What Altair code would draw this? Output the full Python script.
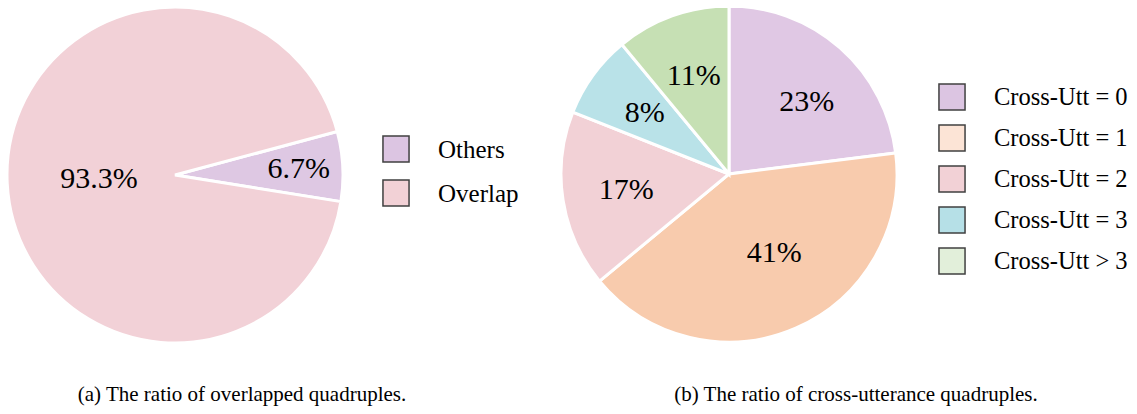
import math
import altair as alt
import pandas as pd

# ---------------- data ----------------
a_cats = ["Others", "Overlap"]
a_vals = [6.7, 93.3]
a_labels = ["6.7%", "93.3%"]
a_pie_colors = ["#DEC8E3", "#F2D1D7"]
a_legend_colors = ["#DCC5E2", "#F2D1D6"]

b_cats = ["Cross-Utt = 0", "Cross-Utt = 1", "Cross-Utt = 2", "Cross-Utt = 3", "Cross-Utt > 3"]
b_vals = [23, 41, 17, 8, 11]
b_labels = ["23%", "41%", "17%", "8%", "11%"]
b_pie_colors = ["#E0C8E4", "#F8CBAD", "#F2D1D6", "#B9E2E8", "#C6E0B4"]
b_legend_colors = ["#DCC5E2", "#FCE4D6", "#F2D1D6", "#B6E0E7", "#E2EFDA"]

captions = ["(a) The ratio of overlapped quadruples.", "(b) The ratio of cross-utterance quadruples."]

FONT = "'Liberation Serif', 'Times New Roman', Times, serif"

df_a = pd.DataFrame({"cat": a_cats, "value": a_vals, "label": a_labels, "idx": list(range(len(a_cats)))})
df_b = pd.DataFrame({"cat": b_cats, "value": b_vals, "label": b_labels, "idx": list(range(len(b_cats)))})


def theta_enc(start_deg):
    s = math.radians(start_deg)
    return alt.Theta("value:Q", stack=True, scale=alt.Scale(range=[s, s + 2 * math.pi]))


def arcs(df, cx, cy, r, start_deg, cats, colors):
    return alt.Chart(df).mark_arc(outerRadius=r, stroke="white", strokeWidth=3).encode(
        theta=theta_enc(start_deg),
        color=alt.Color("cat:N", scale=alt.Scale(domain=cats, range=colors), legend=None),
        order=alt.Order("idx:Q"),
        x=alt.value(cx),
        y=alt.value(cy),
    )


def labels(df, cx, cy, radius, start_deg, pred=None, dx=0, dy=0):
    if pred is None:
        text = alt.Text("label:N")
    else:
        text = alt.condition(pred, alt.Text("label:N"), alt.value(""))
    return alt.Chart(df).mark_text(
        radius=radius, font=FONT, fontSize=30, color="black", align="center", baseline="middle",
        dx=dx, dy=dy,
    ).encode(
        theta=theta_enc(start_deg),
        text=text,
        detail="cat:N",
        order=alt.Order("idx:Q"),
        x=alt.value(cx),
        y=alt.value(cy),
    )


def legend(df, cats, colors, sx, tx, y0, y1, fs):
    n = len(cats)
    yenc = alt.Y("idx:Q", scale=alt.Scale(domain=[0, n - 1], range=[y0, y1]), axis=None)
    sq = alt.Chart(df).mark_square(size=680, stroke="#404040", strokeWidth=1.5, opacity=1, filled=True).encode(
        x=alt.value(sx),
        y=yenc,
        color=alt.Color("cat:N", scale=alt.Scale(domain=cats, range=colors), legend=None),
    )
    tx_ = alt.Chart(df).mark_text(font=FONT, fontSize=fs, color="black", align="left", baseline="middle", dy=1).encode(
        x=alt.value(tx),
        y=yenc,
        text="cat:N",
    )
    return [sq, tx_]


def caption(text, x, y):
    return alt.Chart(pd.DataFrame({"t": [text]})).mark_text(
        font=FONT, fontSize=21, color="black", align="center", baseline="alphabetic"
    ).encode(text="t:N", x=alt.value(x), y=alt.value(y))


layers = [
    arcs(df_a, 167, 167, 168, 75, a_cats, a_pie_colors),
    labels(df_a, 167, 167, 124, 75, pred=alt.datum.cat == "Others"),
    labels(df_a, 167, 167, 76, 75, pred=alt.datum.cat == "Overlap"),
    arcs(df_b, 721, 166, 168, 0, b_cats, b_pie_colors),
    labels(df_b, 721, 166, 104, 0,
           pred=(alt.datum.cat != "Cross-Utt = 1") & (alt.datum.cat != "Cross-Utt = 0")),
    labels(df_b, 721, 166, 104, 0, pred=alt.datum.cat == "Cross-Utt = 0", dx=9, dy=6),
    labels(df_b, 721, 166, 91, 0, pred=alt.datum.cat == "Cross-Utt = 1", dx=9, dy=-5),
]
layers += legend(df_a, a_cats, a_legend_colors, 388, 430, 141, 185, 25)
layers += legend(df_b, b_cats, b_legend_colors, 944, 986, 89, 253, 24.5)
layers += [caption(captions[0], 234, 393), caption(captions[1], 848, 393)]

chart = alt.layer(*layers).resolve_scale(
    color="independent", theta="independent", y="independent"
).properties(
    width=1121, height=398, padding=0, autosize="none", background="white"
).configure_view(stroke=None)

chart.save("out.html", embed_options={"renderer": "svg", "actions": False})
